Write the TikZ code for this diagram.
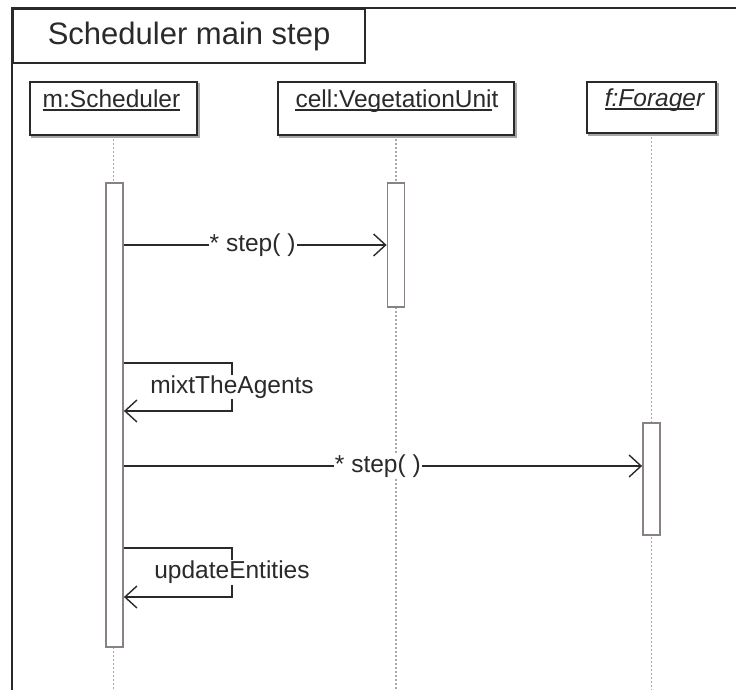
\documentclass[tikz,border=0pt]{standalone}
\usepackage{fontspec}
\setmainfont{Liberation Sans}
\usetikzlibrary{arrows.meta}
\definecolor{ink}{HTML}{2A2A2A}
\definecolor{actc}{HTML}{8A8282}
\definecolor{lifec}{HTML}{A8A8A8}
\tikzset{
  frameline/.style={draw=ink, line width=2.2pt},
  objbox/.style={draw=ink, line width=1.6pt, fill=white, minimum height=53pt, inner sep=0pt,
     preaction={draw=gray!70, line width=1.6pt, transform canvas={shift={(1.8pt,-1.8pt)}}}},
  objlabel/.style={anchor=north, inner sep=0pt, font=\fontsize{24.5}{27}\selectfont, text=ink},
  uline/.style={draw=ink, line width=1.4pt},
  act/.style={draw=actc, line width=1.8pt, fill=white, minimum width=17pt, inner sep=0pt},
  lifeline/.style={draw=lifec, line width=1.2pt, dash pattern=on 2pt off 2pt},
  msg/.style={draw=ink, line width=1.4pt, -{Straight Barb[length=12pt,width=22pt,line width=1.4pt]}},
  msglabel/.style={fill=white, inner sep=1pt, font=\fontsize{24.5}{27}\selectfont, text=ink},
}
\begin{document}
\begin{tikzpicture}[x=1pt,y=-1pt]
\useasboundingbox (0,0) rectangle (736,690);
\clip (0,0) rectangle (736,690);
% frame
\draw[frameline] (12,760) -- (12,8) -- (760,8);
\node[frameline, minimum width=352pt, minimum height=54pt, inner sep=0pt, anchor=north west,
  font=\fontsize{31}{35}\selectfont, text=ink] (title) at (12,8) {Scheduler main step};
% lifelines
\draw[lifeline] (113.5,135) -- (113.5,700);
\draw[lifeline] (396,135) -- (396,700);
\draw[lifeline] (651.5,133) -- (651.5,700);
% object boxes
\node[objbox, minimum width=167pt] (m) at (113.5,108.5) {};
\node[objlabel] (mlab) at ([yshift=-8pt,xshift=-2pt]m.north) {m:Scheduler};
\draw[uline] ([yshift=-3pt]mlab.base west) -- ([yshift=-3pt]mlab.base east);
\node[objbox, minimum width=236pt] (c) at (396,108.5) {};
\node[objlabel] (clab) at ([yshift=-8pt,xshift=1pt]c.north) {cell:VegetationUnit};
\draw[uline] ([yshift=-3pt]clab.base west) -- ([yshift=-3pt,xshift=-7pt]clab.base east);
\node[objbox, minimum width=129pt, minimum height=51pt] (f) at (651.5,107.5) {};
\node[objlabel] (flab) at ([yshift=-7pt,xshift=3pt]f.north) {\itshape f:Forager};
\draw[uline] ([yshift=-3pt]flab.base west) -- ([yshift=-3pt,xshift=-10pt]flab.base east);
% activations
\node[act, minimum height=464pt] (ma) at (114.5,415) {};
\node[act, minimum height=124pt] (ca) at (396,245) {};
\node[act, minimum height=112pt] (fa) at (651.5,479) {};
% messages
\draw[msg] (ma.east |- 0,245) -- node[msglabel, pos=0.49] (l1) {* step( )} (ca.west |- 0,245);
\draw[msg] (ma.east |- 0,363) -- (232,363) -- node[msglabel] (l2) {mixtTheAgents} (232,411) -- (ma.east |- 0,411);
\draw[msg] (ma.east |- 0,466) -- node[msglabel, pos=0.49] (l3) {* step( )} (fa.west |- 0,466);
\draw[msg] (ma.east |- 0,548) -- (232,548) -- node[msglabel] (l4) {updateEntities} (232,597) -- (ma.east |- 0,597);
\end{tikzpicture}
\end{document}
